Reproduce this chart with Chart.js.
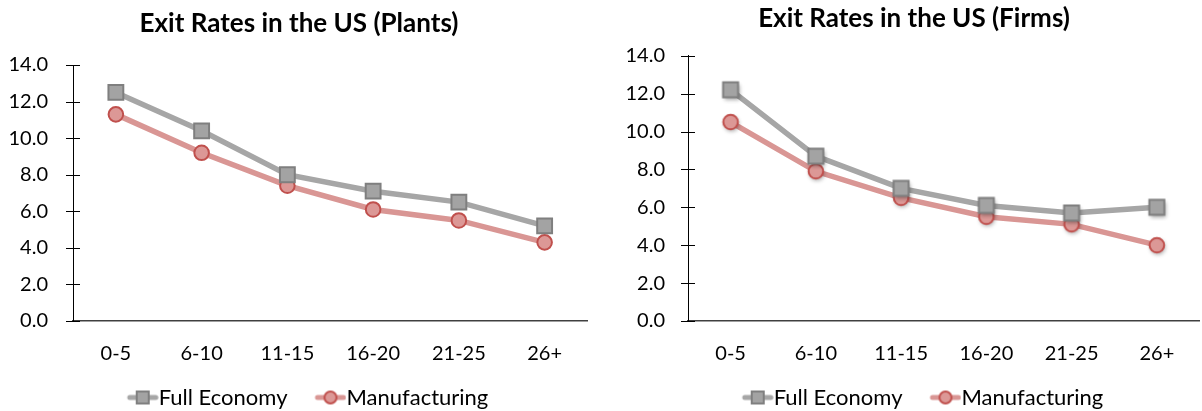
<!DOCTYPE html>
<html>
<head>
<meta charset="utf-8">
<script src="https://cdn.jsdelivr.net/npm/chart.js@4.4.0/dist/chart.umd.min.js"></script>
<style>
  html, body { margin: 0; padding: 0; background: #fff; overflow: hidden; }
  .wrap { position: relative; width: 1202px; height: 411px; overflow: hidden; }
  #plantsBox { position: absolute; left: 0; top: 0; width: 600px; height: 411px; }
  #firmsBox { position: absolute; left: 600px; top: 0; width: 612px; height: 411px; }
</style>
</head>
<body>
<div class="wrap">
  <div id="plantsBox"><canvas id="plantsChart"></canvas></div>
  <div id="firmsBox"><canvas id="firmsChart"></canvas></div>
</div>
<script>
// data
const ageGroups = ['0-5', '6-10', '11-15', '16-20', '21-25', '26+'];
const plantsFullEconomy = [12.5, 10.4, 8.0, 7.1, 6.5, 5.2];
const plantsManufacturing = [11.3, 9.2, 7.4, 6.1, 5.5, 4.3];
const firmsFullEconomy = [12.2, 8.7, 7.0, 6.1, 5.7, 6.0];
const firmsManufacturing = [10.5, 7.9, 6.5, 5.5, 5.1, 4.0];
const yTicks = [0, 2, 4, 6, 8, 10, 12, 14];
const seriesNames = ['Full Economy', 'Manufacturing'];

const FONT = "Lato, 'Open Sans', sans-serif";
const GRAY_LINE = '#a6a6a6', GRAY_FILL = '#a3a3a3', GRAY_EDGE = '#7f7f7f';
const RED_LINE = '#d99694', RED_FILL = '#dc9896', RED_EDGE = '#c0504d';

// legend symbol: line + marker drawn in the right part of a wider transparent canvas
function legendIcon(lineColor, fill, edge, shape) {
    const c = document.createElement('canvas');
    c.width = 60; c.height = 16;
    const ctx = c.getContext('2d');
    const ox = 28;
    ctx.strokeStyle = lineColor;
    ctx.lineWidth = 5;
    ctx.lineCap = 'round';
    ctx.beginPath(); ctx.moveTo(ox + 3, 8); ctx.lineTo(ox + 29, 8); ctx.stroke();
    ctx.fillStyle = fill;
    ctx.strokeStyle = edge;
    ctx.lineWidth = 2;
    if (shape === 'rect') {
        ctx.fillRect(ox + 10, 2, 12, 12);
        ctx.strokeRect(ox + 10, 2, 12, 12);
    } else {
        ctx.beginPath(); ctx.arc(ox + 16, 8, 6, 0, Math.PI * 2); ctx.fill(); ctx.stroke();
    }
    return c;
}
const icons = [
    legendIcon(GRAY_LINE, GRAY_FILL, GRAY_EDGE, 'rect'),
    legendIcon(RED_LINE, RED_FILL, RED_EDGE, 'circle')
];

// marker with a soft drop shadow (the Firms chart has them)
function shadowMarker(fill, edge, shape) {
    const c = document.createElement('canvas');
    c.width = 28; c.height = 28;
    const ctx = c.getContext('2d');
    ctx.shadowColor = 'rgba(0,0,0,0.35)';
    ctx.shadowBlur = 4;
    ctx.shadowOffsetX = 1;
    ctx.shadowOffsetY = 2;
    ctx.fillStyle = fill;
    ctx.strokeStyle = edge;
    ctx.lineWidth = 2;
    if (shape === 'rect') {
        ctx.beginPath(); ctx.rect(6.5, 6.5, 15, 15); ctx.fill();
        ctx.shadowColor = 'transparent'; ctx.stroke();
    } else {
        ctx.beginPath(); ctx.arc(14, 14, 7.3, 0, Math.PI * 2); ctx.fill();
        ctx.shadowColor = 'transparent'; ctx.stroke();
    }
    return c;
}

// Excel style cross tick marks on the value axis
const crossTicks = {
    id: 'crossTicks',
    beforeDatasetsDraw(chart) {
        const y = chart.scales.y;
        const ctx = chart.ctx;
        ctx.save();
        ctx.strokeStyle = '#000';
        ctx.lineWidth = 1;
        y.ticks.forEach(t => {
            const py = Math.round(y.getPixelForValue(t.value)) + 0.5;
            ctx.beginPath();
            ctx.moveTo(y.right - 7, py);
            ctx.lineTo(y.right + 7, py);
            ctx.stroke();
        });
        ctx.restore();
    }
};

function makeChart(id, title, full, manuf, lay) {
    return new Chart(document.getElementById(id), {
        type: 'line',
        data: {
            labels: ageGroups,
            datasets: [{
                label: seriesNames[0],
                data: full,
                borderColor: GRAY_LINE,
                borderWidth: 5.5,
                pointStyle: lay.shadow ? shadowMarker(GRAY_FILL, GRAY_EDGE, 'rect') : 'rect',
                pointRadius: 10.5,
                pointBackgroundColor: GRAY_FILL,
                pointBorderColor: GRAY_EDGE,
                pointBorderWidth: 2,
                tension: 0
            }, {
                label: seriesNames[1],
                data: manuf,
                borderColor: RED_LINE,
                borderWidth: 5.5,
                pointStyle: lay.shadow ? shadowMarker(RED_FILL, RED_EDGE, 'circle') : 'circle',
                pointRadius: 7.3,
                pointBackgroundColor: RED_FILL,
                pointBorderColor: RED_EDGE,
                pointBorderWidth: 2,
                tension: 0
            }]
        },
        options: {
            responsive: true,
            maintainAspectRatio: false,
            animation: false,
            layout: { padding: { left: lay.padLeft, right: lay.padRight, top: 0, bottom: -7.5 } },
            plugins: {
                title: {
                    display: true,
                    text: title,
                    color: '#000',
                    font: { family: FONT, size: 26, weight: 'bold' },
                    padding: { top: lay.titleTop, bottom: lay.titleBottom }
                },
                legend: {
                    position: 'bottom',
                    labels: {
                        usePointStyle: true,
                        pointStyleWidth: 38,
                        color: '#000',
                        padding: 10,
                        font: { family: FONT, size: 22 },
                        generateLabels(chart) {
                            const items = Chart.defaults.plugins.legend.labels.generateLabels(chart);
                            items.forEach((it, i) => { it.pointStyle = icons[i]; });
                            return items;
                        }
                    }
                },
                tooltip: { enabled: false }
            },
            scales: {
                x: {
                    offset: true,
                    grid: { display: false, drawTicks: false },
                    border: { display: true, color: '#404040', width: 1.5 },
                    ticks: { color: '#000', padding: 21, font: { family: FONT, size: 20 } },
                    afterFit(scale) { scale.height = 55.5; }
                },
                y: {
                    min: 0,
                    max: 14,
                    grid: { display: false, drawTicks: false },
                    border: { display: true, color: '#000', width: 1 },
                    afterBuildTicks(scale) { scale.ticks = yTicks.map(v => ({ value: v })); },
                    ticks: {
                        color: '#000',
                        padding: lay.yPad,
                        font: { family: FONT, size: 20 },
                        callback: v => v.toFixed(1)
                    },
                    afterFit(scale) { scale.width = lay.yWidth; }
                }
            }
        },
        plugins: [crossTicks]
    });
}

makeChart('plantsChart', 'Exit Rates in the US (Plants)', plantsFullEconomy, plantsManufacturing,
    { padLeft: 5, padRight: 7, titleTop: 8, titleBottom: 25.8, yWidth: 68, yPad: 25, shadow: false });
makeChart('firmsChart', 'Exit Rates in the US (Firms)', firmsFullEconomy, firmsManufacturing,
    { padLeft: 20, padRight: 4, titleTop: 3, titleBottom: 21.5, yWidth: 68, yPad: 23, shadow: true });
</script>
</body>
</html>
